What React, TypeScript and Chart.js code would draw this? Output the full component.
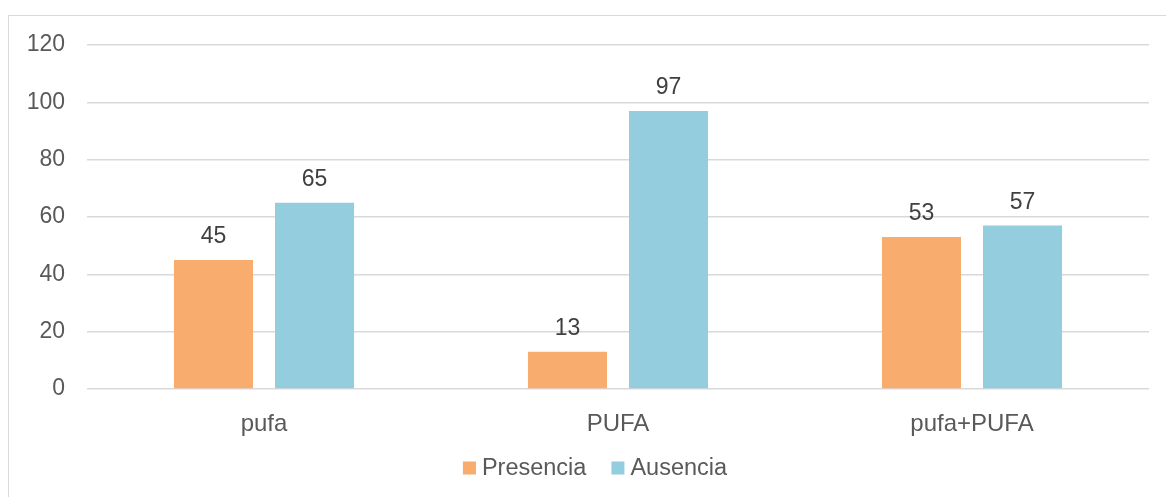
import React, { useEffect, useRef } from "react";
import { Chart, registerables } from "chart.js";

Chart.register(...registerables);

const categories = ["pufa", "PUFA", "pufa+PUFA"];
const presencia = [45, 13, 53];
const ausencia = [65, 97, 57];
const seriesNames = ["Presencia", "Ausencia"];
const yTicks = [0, 20, 40, 60, 80, 100, 120];

const ORANGE = "#F8AC6E";
const BLUE = "#94CDDD";
const TEXT = "#595959";
const GRID = "#D9D9D9";
const FONT = "'Liberation Sans', Arial, sans-serif";

// value labels above each bar
const barValueLabels = {
  id: "barValueLabels",
  afterDatasetsDraw(chart: any) {
    const ctx = chart.ctx;
    ctx.save();
    ctx.font = `23px ${FONT}`;
    ctx.fillStyle = "#404040";
    ctx.textAlign = "center";
    ctx.textBaseline = "middle";
    chart.data.datasets.forEach((ds: any, di: number) => {
      const meta = chart.getDatasetMeta(di);
      meta.data.forEach((el: any, i: number) => {
        ctx.fillText(String(ds.data[i]), el.x, el.y - 23);
      });
    });
    ctx.restore();
  },
};

// compact legend under the axis: square swatch + name
const bottomLegend = {
  id: "bottomLegend",
  afterDraw(chart: any) {
    const ctx = chart.ctx;
    ctx.save();
    ctx.font = `23.5px ${FONT}`;
    ctx.textBaseline = "middle";
    const box = 13;
    const gap = 6;
    const spacing = 25;
    const items = chart.data.datasets.map((ds: any) => ({
      label: ds.label,
      color: ds.backgroundColor,
      w: box + gap + ctx.measureText(ds.label).width,
    }));
    const total =
      items.reduce((s: number, it: any) => s + it.w, 0) + spacing * (items.length - 1);
    let x = 595 - total / 2;
    const y = 468;
    items.forEach((it: any) => {
      ctx.fillStyle = it.color;
      ctx.fillRect(x, y - box / 2, box, box);
      ctx.fillStyle = TEXT;
      ctx.textAlign = "left";
      ctx.fillText(it.label, x + box + gap, y + 1);
      x += it.w + spacing;
    });
    ctx.restore();
  },
};

export default function App() {
  const canvasRef = useRef<HTMLCanvasElement | null>(null);

  useEffect(() => {
    if (!canvasRef.current) return;
    Chart.defaults.font.family = FONT;
    const chart = new Chart(canvasRef.current, {
      type: "bar",
      data: {
        labels: categories,
        datasets: [
          {
            label: seriesNames[0],
            data: presencia,
            backgroundColor: ORANGE,
            categoryPercentage: 0.571,
            barPercentage: 0.782,
          },
          {
            label: seriesNames[1],
            data: ausencia,
            backgroundColor: BLUE,
            categoryPercentage: 0.571,
            barPercentage: 0.782,
          },
        ],
      },
      options: {
        responsive: false,
        animation: false,
        layout: { padding: { left: 0, right: 17, top: 45, bottom: 48 } },
        plugins: {
          legend: { display: false },
          tooltip: { enabled: false },
        },
        scales: {
          x: {
            grid: { display: false },
            border: { display: false },
            ticks: { color: TEXT, font: { size: 24, family: FONT }, padding: 13 },
            afterFit(scale: any) {
              scale.height = 60;
            },
          },
          y: {
            min: yTicks[0],
            max: yTicks[yTicks.length - 1],
            grid: { color: GRID, lineWidth: 1.4, drawTicks: false },
            border: { display: false },
            afterBuildTicks(scale: any) {
              scale.ticks = yTicks.map((v) => ({ value: v }));
            },
            ticks: {
              color: TEXT,
              font: { size: 23, family: FONT },
              padding: 22,
            },
            afterFit(scale: any) {
              scale.width = 87;
            },
          },
        },
      },
      plugins: [barValueLabels, bottomLegend],
    });
    return () => chart.destroy();
  }, []);

  return (
    <div
      style={{
        position: "fixed",
        left: 0,
        top: 0,
        width: 1166,
        height: 497,
        overflow: "hidden",
        background: "#fff",
      }}
    >
      <div
        style={{
          position: "absolute",
          left: 8,
          top: 15,
          width: 1200,
          height: 600,
          border: `1.5px solid ${GRID}`,
        }}
      />
      <canvas
        ref={canvasRef}
        width={1166}
        height={497}
        style={{ position: "absolute", left: 0, top: 0 }}
      />
    </div>
  );
}
